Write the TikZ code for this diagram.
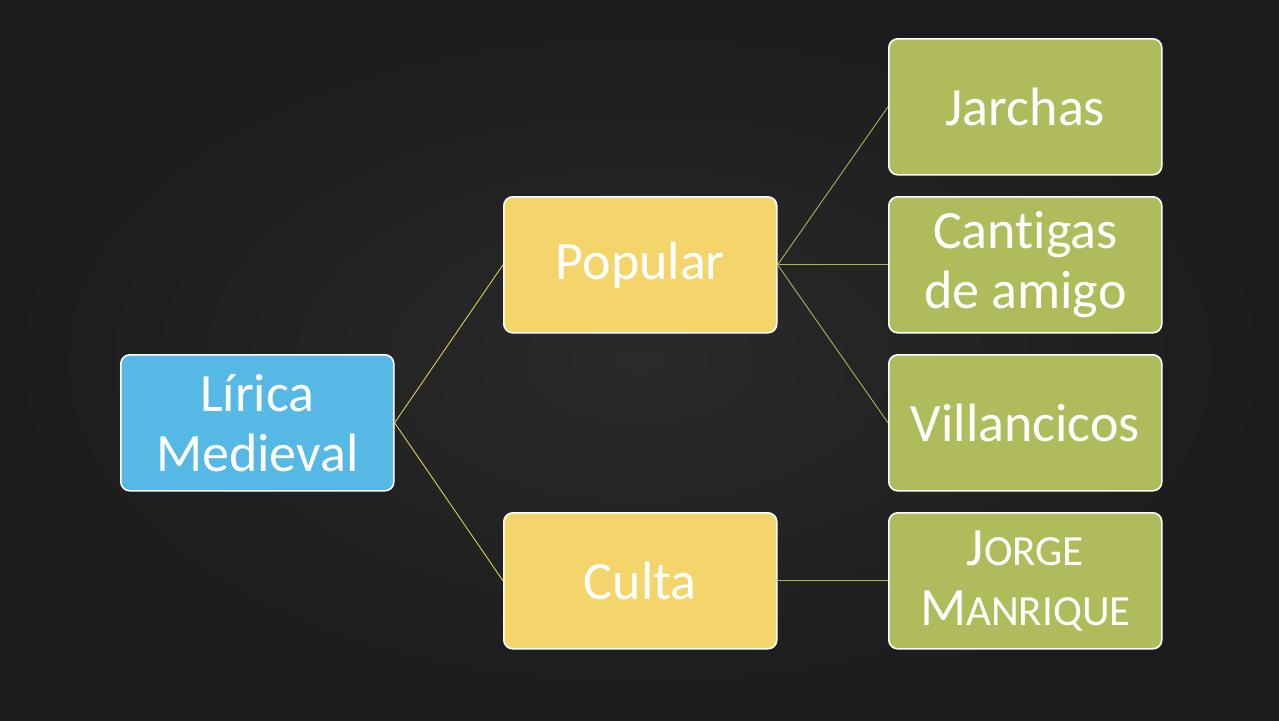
\documentclass[tikz,border=0pt]{standalone}
\usepackage{fontspec}
\setmainfont[Ligatures={NoCommon}]{Carlito}
\definecolor{bg}{HTML}{1C1C1C}
\definecolor{bgc}{HTML}{2A2A2A}
\definecolor{blu}{HTML}{56B8E5}
\definecolor{yel}{HTML}{F3D56B}
\definecolor{grn}{HTML}{B0BC5C}
\definecolor{ylin}{HTML}{DCCB5E}
\definecolor{glin}{HTML}{A9B457}
\newcommand{\smc}[1]{{\fontsize{43}{60}\selectfont #1}}
\begin{document}
\begin{tikzpicture}[x=1pt,y=-1pt,
  box/.style={draw=white,line width=1.6pt,rounded corners=9pt,minimum width=273pt,minimum height=136pt,
    inner sep=0pt,align=center,text=white,font=\fontsize{54}{60}\selectfont,anchor=north west},
  bluebox/.style={box,fill=blu},
  yelbox/.style={box,fill=yel},
  grnbox/.style={box,fill=grn},
  ylink/.style={draw=ylin,line width=0.9pt},
  glink/.style={draw=glin,line width=0.9pt}]
\useasboundingbox (0,0) rectangle (1279,720);
\shade[inner color=bgc,outer color=bg] (0,0) rectangle (1279,720);
\node[bluebox] (lir) at (120,354) {Lírica\\Medieval};
\node[yelbox] (pop) at (503,196) {Popular};
\node[yelbox] (cul) at (503,512) {Culta};
\node[grnbox] (jar) at (888,38) {Jarchas};
\node[grnbox] (can) at (888,196) {Cantigas\\de amigo};
\node[grnbox] (vil) at (888,354) {Villancicos};
\node[grnbox] (jor) at (888,512) {J\smc{ORGE}\\M\smc{ANRIQUE}};
\draw[ylink] (lir.east) -- (pop.west);
\draw[ylink] (lir.east) -- (cul.west);
\draw[glink] (pop.east) -- (jar.west);
\draw[glink] (pop.east) -- (can.west);
\draw[glink] (pop.east) -- (vil.west);
\draw[glink] (cul.east) -- (jor.west);
\end{tikzpicture}
\end{document}
